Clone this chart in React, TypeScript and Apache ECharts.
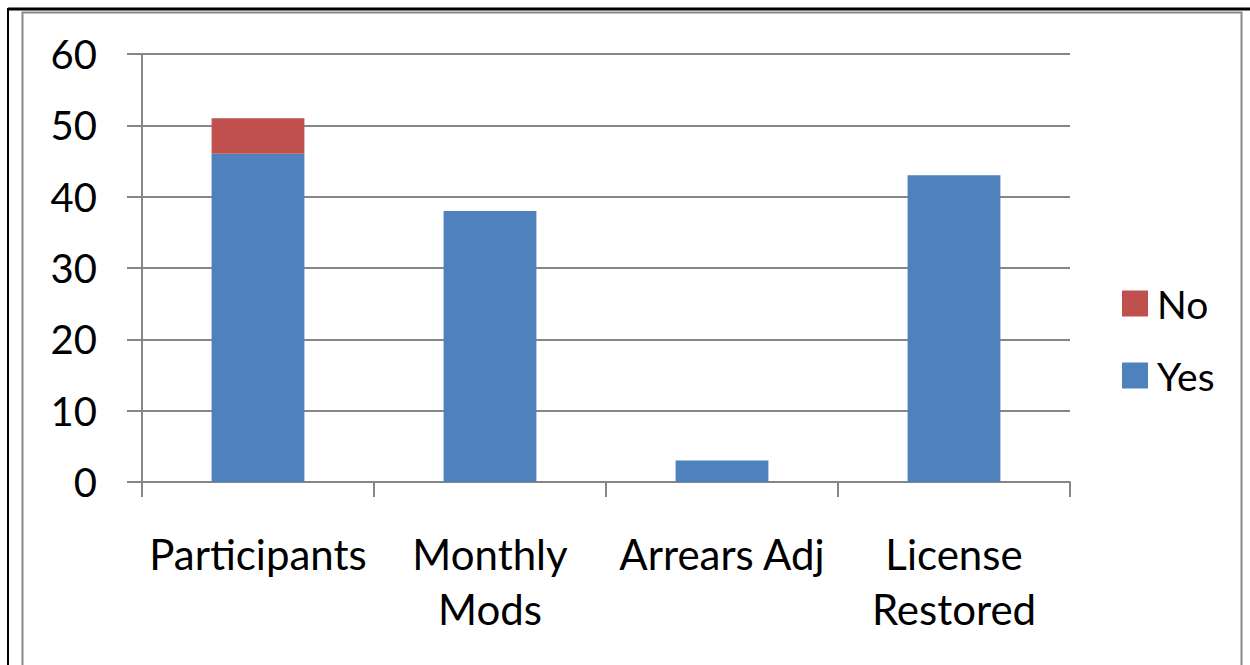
import React, { useEffect, useRef } from "react";
import * as echarts from "echarts";

const categories = ["Participants", "Monthly\nMods", "Arrears Adj", "License\nRestored"];
const yesValues = [46, 38, 3, 43];
const noValues = [5, 0, 0, 0];
const yTicks = { min: 0, max: 60, interval: 10 };

const FONT = "Lato";

export default function App() {
  const ref = useRef<HTMLDivElement>(null);
  useEffect(() => {
    const chart = echarts.init(ref.current!, null, { renderer: "svg" });
    chart.setOption({
      animation: false,
      backgroundColor: "#ffffff",
      textStyle: { fontFamily: FONT },
      grid: { left: 142, right: 180, top: 54, bottom: 183 },
      legend: {
        orient: "vertical",
        left: 1117,
        top: 279,
        itemWidth: 26,
        itemHeight: 26,
        itemGap: 33,
        data: ["No", "Yes"],
        textStyle: { fontFamily: FONT, fontSize: 39, color: "#000", lineHeight: 26, padding: [0, 0, 0, 4] },
        icon: "rect",
      },
      xAxis: {
        type: "category",
        data: categories,
        axisLine: { lineStyle: { color: "#868686", width: 2 } },
        axisTick: { show: true, length: 15, lineStyle: { color: "#868686", width: 2 } },
        axisLabel: { fontFamily: FONT, fontSize: 42, color: "#000", margin: 44, lineHeight: 55, interval: 0 },
      },
      yAxis: {
        type: "value",
        min: yTicks.min,
        max: yTicks.max,
        interval: yTicks.interval,
        axisLine: { show: true, lineStyle: { color: "#868686", width: 2 } },
        axisTick: { show: true, length: 15, lineStyle: { color: "#868686", width: 2 } },
        axisLabel: { fontFamily: FONT, fontSize: 40, color: "#000", margin: 45 },
        splitLine: { lineStyle: { color: "#868686", width: 2 } },
      },
      series: [
        {
          name: "Yes",
          type: "bar",
          stack: "a",
          data: yesValues,
          barWidth: "40%",
          itemStyle: { color: "#4F81BD" },
        },
        {
          name: "No",
          type: "bar",
          stack: "a",
          data: noValues,
          barWidth: "40%",
          itemStyle: { color: "#C0504D" },
        },
      ],
      graphic: [
        { type: "line", shape: { x1: 8, y1: 9, x2: 1250, y2: 9 }, style: { stroke: "#000", lineWidth: 3 } },
        { type: "line", shape: { x1: 8, y1: 8, x2: 8, y2: 665 }, style: { stroke: "#000", lineWidth: 2 } },
        { type: "rect", shape: { x: 22.5, y: 12.5, width: 1219, height: 700 }, style: { fill: "none", stroke: "#888", lineWidth: 2 } },
      ],
    });
    return () => chart.dispose();
  }, []);
  return (
    <div
      ref={ref}
      style={{ position: "absolute", left: 0, top: 0, width: 1250, height: 665 }}
    />
  );
}
